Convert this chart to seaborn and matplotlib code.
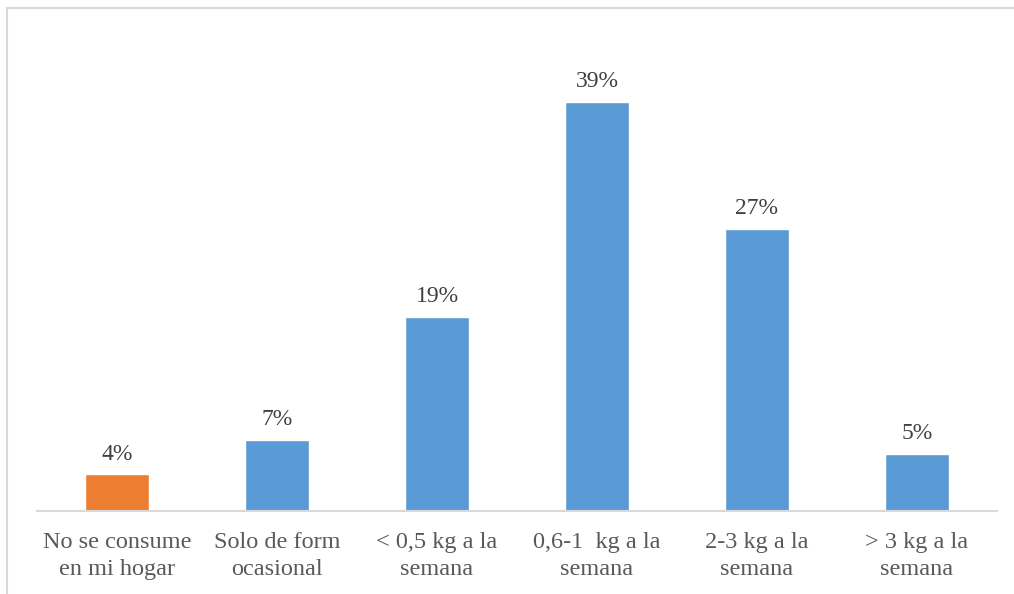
import matplotlib
matplotlib.use("Agg")
import matplotlib.pyplot as plt
import seaborn as sns
import pandas as pd
from matplotlib.lines import Line2D

categories = ["No se consume\nen mi hogar", "Solo de form\nocasional", "< 0,5 kg a la\nsemana",
              "0,6-1  kg a la\nsemana", "2-3 kg a la\nsemana", "> 3 kg a la\nsemana"]
values = [3.5, 6.8, 18.6, 39.1, 27.0, 5.45]
value_labels = ["4%", "7%", "19%", "39%", "27%", "5%"]
groups = ["a", "b", "b", "b", "b", "b"]
palette = {"a": "#ED7D31", "b": "#5B9BD5"}

sns.set_theme(style="white")
plt.rcParams["font.family"] = ["Liberation Serif", "DejaVu Serif"]

df = pd.DataFrame({"cat": categories, "val": values, "grp": groups})

fig = plt.figure(figsize=(10.14, 5.94), dpi=100)
ax = fig.add_axes([37 / 1014, (594 - 511) / 594, 960 / 1014, 481 / 594])
sns.barplot(data=df, x="cat", y="val", hue="grp", palette=palette, dodge=False,
            width=0.405, legend=False, ax=ax, saturation=1)

ax.set_ylim(0, 46)
ax.set_xlim(-0.5, 5.5)
# value labels
for i, (v, lab) in enumerate(zip(values, value_labels)):
    ax.annotate(lab, (i, v), xytext=(0, 7), textcoords="offset points",
                ha="center", va="bottom", fontsize=17, color="#404040")

ax.set_xlabel("")
ax.set_ylabel("")
ax.set_yticks([])
ax.tick_params(axis="x", length=0, pad=15, labelsize=17.5, labelcolor="#595959")
for t in ax.get_xticklabels():
    t.set_linespacing(1.4)
for s in ["top", "right", "left"]:
    ax.spines[s].set_visible(False)
ax.spines["bottom"].set_color("#D9D9D9")
ax.spines["bottom"].set_linewidth(1.5)

# outer chart border
fig.add_artist(Line2D([7 / 1014, 1.0], [1 - 8 / 594, 1 - 8 / 594], transform=fig.transFigure,
                      color="#D9D9D9", lw=1.5))
fig.add_artist(Line2D([7 / 1014, 7 / 1014], [0, 1 - 8 / 594], transform=fig.transFigure,
                      color="#D9D9D9", lw=1.5))

fig.savefig("out.png", dpi=100, facecolor="white")
